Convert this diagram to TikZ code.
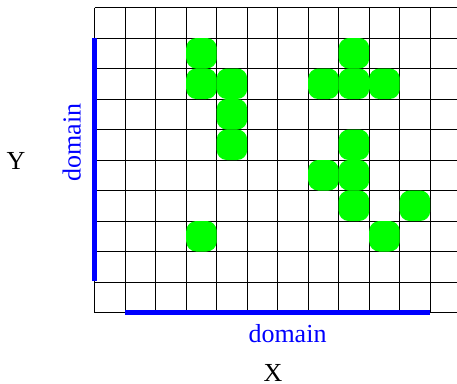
\documentclass[tikz,border=0pt]{standalone}
\usepackage{fontspec}
\setmainfont{Liberation Serif}
\begin{document}
\begin{tikzpicture}[x=1pt,y=-1pt,
  gridline/.style={black,line width=0.8pt},
  cell/.style={fill={rgb,255:red,0;green,255;blue,0},draw=none,rounded corners=10pt,minimum size=30.5pt,inner sep=0pt},
  domainbar/.style={blue,line width=5pt,line cap=butt},
  lbl/.style={font=\fontsize{26}{30}\selectfont,inner sep=0pt,anchor=base}]
\useasboundingbox (0,0) rectangle (457,383);
\fill[white] (0,0) rectangle (457,383);
% grid
\foreach \i in {0,...,12} \draw[gridline] (94.7+30.5*\i,7.5) -- (94.7+30.5*\i,312.5);
\foreach \j in {0,...,10} \draw[gridline] (94.7,7.5+30.5*\j) -- (460.7,7.5+30.5*\j);
% green cells
\foreach \c/\r [count=\k] in {3/1,3/2,4/2,4/3,4/4,8/1,7/2,8/2,9/2,8/4,7/5,8/5,8/6,10/6,9/7,3/7}
  \node[cell] (g\k) at (109.95+30.5*\c,22.75+30.5*\r) {};
% domain bars
\coordinate (ltop) at (94.7,38.3);
\coordinate (lbot) at (94.7,281.3);
\coordinate (bleft) at (125.3,312);
\coordinate (bright) at (430,312);
\draw[domainbar] (ltop) -- (lbot);
\draw[domainbar] (bleft) -- (bright);
% labels
\node[lbl,text=blue,rotate=90] (dy) at (80.5,142.7) {domain};
\node[lbl,text=blue] (dx) at (287.5,342.5) {domain};
\node[lbl] (ly) at (16,169) {Y};
\node[lbl] (lx) at (273,381.5) {X};
\end{tikzpicture}
\end{document}
